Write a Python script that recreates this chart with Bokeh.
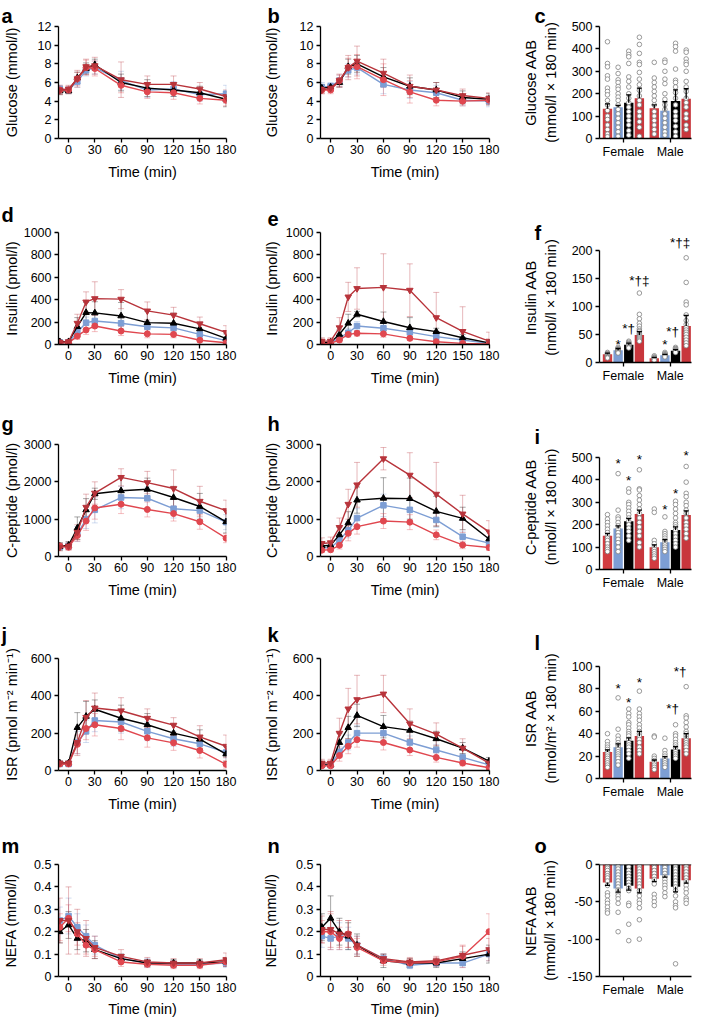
from bokeh.plotting import figure
from bokeh.layouts import row, column
from bokeh.models import (Range1d, FixedTicker, Whisker, TeeHead, ColumnDataSource,
                          Label, Span, CustomJSTickFormatter, Title)
from bokeh.embed import file_html
from bokeh.resources import INLINE

# ------------------------------------------------------------------ data
time_min = [-10, 0, 10, 20, 30, 60, 90, 120, 150, 180]
time_ticks = [0, 30, 60, 90, 120, 150, 180]
sex_labels = ["Female", "Male"]

# group order: g1 (red circle), g2 (blue square), g3 (black triangle), g4 (dark red inverted triangle)
glucose_f_mean = [[5.2, 5.2, 6.4, 7.6, 7.5, 5.7, 5.0, 4.9, 4.3, 4.1],
                  [5.3, 5.2, 6.1, 7.3, 7.6, 6.2, 5.2, 5.3, 4.7, 4.8],
                  [5.1, 5.1, 6.5, 7.5, 7.9, 6.0, 5.4, 5.2, 4.9, 4.2],
                  [5.2, 5.3, 6.4, 7.7, 7.8, 6.3, 5.8, 5.8, 5.3, 4.5]]
glucose_f_err = [[0.4, 0.4, 0.7, 0.8, 0.8, 0.8, 0.7, 0.7, 0.6, 0.6],
                 [0.4, 0.3, 0.6, 0.6, 0.7, 1.0, 0.8, 0.8, 0.7, 0.9],
                 [0.4, 0.3, 0.6, 0.6, 0.6, 0.9, 0.9, 0.7, 0.7, 0.8],
                 [0.5, 0.4, 0.9, 0.8, 0.9, 1.9, 0.9, 0.9, 0.7, 0.7]]
glucose_m_mean = [[5.2, 5.2, 6.2, 7.6, 7.7, 6.3, 5.0, 4.1, 4.0, 4.1],
                  [5.5, 5.6, 6.2, 7.3, 7.6, 5.8, 5.2, 4.9, 4.1, 4.0],
                  [5.4, 5.5, 6.0, 7.7, 8.0, 6.6, 5.6, 5.2, 4.4, 4.2],
                  [5.2, 5.4, 6.2, 7.6, 8.3, 7.0, 5.6, 5.2, 4.6, 4.3]]
glucose_m_err = [[0.4, 0.4, 0.6, 1.0, 1.3, 1.7, 1.2, 0.6, 0.5, 0.5],
                 [0.5, 0.4, 0.6, 0.7, 0.7, 1.0, 0.9, 0.8, 0.6, 0.6],
                 [0.4, 0.3, 0.5, 0.8, 0.9, 1.0, 0.9, 0.8, 0.7, 0.6],
                 [0.4, 0.4, 0.7, 1.3, 1.6, 1.5, 1.2, 0.8, 0.7, 0.6]]

insulin_f_mean = [[15, 15, 75, 130, 165, 120, 95, 90, 38, 15],
                  [20, 20, 110, 195, 210, 190, 158, 148, 90, 35],
                  [25, 25, 160, 285, 282, 255, 195, 190, 140, 55],
                  [20, 25, 190, 380, 410, 405, 300, 262, 185, 108]]
insulin_f_err = [[10, 10, 30, 40, 50, 40, 35, 30, 15, 8],
                 [10, 10, 40, 50, 60, 60, 50, 40, 30, 20],
                 [12, 12, 80, 90, 100, 120, 100, 90, 60, 40],
                 [15, 15, 80, 90, 150, 85, 80, 70, 60, 60]]
insulin_m_mean = [[8, 10, 40, 90, 100, 95, 55, 25, 10, 5],
                  [10, 15, 60, 105, 165, 145, 110, 70, 40, 10],
                  [15, 20, 90, 190, 270, 205, 150, 115, 60, 15],
                  [30, 30, 150, 425, 500, 510, 485, 240, 117, 30]]
insulin_m_err = [[8, 8, 20, 20, 25, 30, 20, 15, 8, 5],
                 [8, 8, 25, 40, 40, 40, 30, 30, 20, 10],
                 [10, 12, 40, 80, 25, 85, 90, 30, 30, 10],
                 [30, 30, 90, 130, 185, 300, 235, 225, 220, 80]]

cpep_f_mean = [[280, 250, 560, 950, 1300, 1400, 1260, 1150, 930, 490],
               [260, 280, 600, 1000, 1250, 1580, 1560, 1280, 1230, 920],
               [270, 300, 760, 1250, 1680, 1760, 1800, 1580, 1340, 930],
               [250, 280, 650, 1320, 1700, 2120, 1980, 1820, 1480, 1230]]
cpep_f_err = [[80, 80, 150, 250, 300, 250, 200, 200, 200, 120],
              [80, 80, 200, 250, 350, 300, 300, 250, 200, 200],
              [100, 100, 300, 300, 150, 350, 300, 300, 350, 300],
              [100, 100, 200, 350, 300, 230, 300, 500, 400, 280]]
cpep_m_mean = [[170, 180, 300, 620, 800, 950, 920, 580, 310, 240],
               [230, 230, 440, 700, 1030, 1370, 1250, 980, 530, 360],
               [280, 300, 580, 900, 1510, 1560, 1550, 1210, 1020, 470],
               [350, 370, 780, 1400, 1920, 2620, 2180, 1670, 1140, 660]]
cpep_m_err = [[60, 60, 100, 200, 200, 200, 200, 130, 100, 80],
              [80, 80, 150, 200, 250, 300, 300, 200, 150, 100],
              [100, 100, 200, 300, 350, 550, 550, 400, 300, 200],
              [150, 150, 250, 400, 600, 300, 600, 850, 500, 300]]

isr_f_mean = [[35, 35, 140, 225, 245, 225, 175, 148, 107, 33],
              [35, 35, 150, 210, 268, 260, 210, 170, 143, 97],
              [40, 40, 230, 290, 328, 280, 245, 200, 168, 88],
              [40, 40, 150, 285, 335, 320, 280, 243, 180, 130]]
isr_f_err = [[10, 10, 50, 60, 60, 60, 50, 40, 40, 20],
             [10, 10, 60, 60, 60, 60, 50, 40, 40, 30],
             [10, 10, 80, 80, 50, 70, 60, 50, 50, 40],
             [10, 10, 70, 90, 80, 70, 50, 40, 60, 60]]
isr_m_mean = [[25, 25, 80, 130, 165, 150, 110, 70, 40, 15],
              [30, 30, 100, 150, 200, 200, 150, 110, 70, 30],
              [30, 30, 150, 230, 295, 235, 215, 170, 120, 50],
              [40, 40, 200, 330, 380, 410, 250, 195, 120, 40]]
isr_m_err = [[10, 10, 30, 40, 40, 40, 30, 25, 15, 10],
             [10, 10, 30, 40, 40, 40, 35, 30, 20, 10],
             [10, 10, 50, 60, 60, 60, 50, 40, 30, 20],
             [20, 20, 80, 110, 130, 100, 80, 60, 50, 20]]

nefa_f_mean = [[0.22, 0.26, 0.19, 0.14, 0.12, 0.065, 0.055, 0.05, 0.05, 0.065],
               [0.25, 0.27, 0.22, 0.18, 0.14, 0.08, 0.06, 0.055, 0.055, 0.06],
               [0.20, 0.23, 0.17, 0.16, 0.12, 0.08, 0.06, 0.06, 0.06, 0.065],
               [0.25, 0.25, 0.20, 0.17, 0.13, 0.09, 0.065, 0.06, 0.06, 0.075]]
nefa_f_err = [[0.06, 0.06, 0.05, 0.04, 0.03, 0.02, 0.015, 0.015, 0.015, 0.02],
              [0.06, 0.08, 0.06, 0.05, 0.04, 0.02, 0.02, 0.015, 0.015, 0.02],
              [0.05, 0.06, 0.05, 0.05, 0.04, 0.02, 0.015, 0.015, 0.015, 0.02],
              [0.10, 0.15, 0.10, 0.08, 0.05, 0.03, 0.02, 0.02, 0.02, 0.03]]
nefa_m_mean = [[0.20, 0.20, 0.17, 0.19, 0.13, 0.07, 0.06, 0.065, 0.09, 0.20],
               [0.18, 0.17, 0.18, 0.17, 0.14, 0.08, 0.05, 0.06, 0.06, 0.10],
               [0.22, 0.26, 0.20, 0.18, 0.14, 0.07, 0.06, 0.06, 0.08, 0.10],
               [0.21, 0.21, 0.19, 0.19, 0.14, 0.08, 0.065, 0.07, 0.095, 0.12]]
nefa_m_err = [[0.05, 0.08, 0.05, 0.06, 0.04, 0.02, 0.02, 0.02, 0.05, 0.08],
              [0.05, 0.05, 0.06, 0.05, 0.04, 0.02, 0.015, 0.015, 0.02, 0.03],
              [0.06, 0.10, 0.06, 0.06, 0.05, 0.03, 0.02, 0.02, 0.03, 0.04],
              [0.06, 0.08, 0.06, 0.06, 0.04, 0.02, 0.02, 0.02, 0.04, 0.05]]

# bar panels: order F-g1..F-g4, M-g1..M-g4
glucose_aab_mean = [133, 140, 160, 180, 135, 124, 167, 177]
glucose_aab_err = [22, 8, 35, 45, 15, 40, 50, 45]
glucose_aab_dots = [[432, 335, 320, 280, 265, 225, 210, 195, 170, 150, 125, 100, 85, 60, 40, 20, 8],
                    [318, 290, 262, 250, 232, 220, 200, 185, 170, 150, 130, 110, 90, 70, 50, 30, 10],
                    [390, 375, 365, 335, 275, 255, 230, 200, 180, 160, 140, 120, 100, 80, 60, 35, 15],
                    [452, 420, 380, 340, 330, 295, 265, 240, 215, 190, 170, 150, 120, 100, 75, 50, 10],
                    [340, 270, 250, 230, 210, 190, 170, 150, 120, 100, 80, 60, 40, 20],
                    [350, 340, 300, 265, 245, 200, 175, 150, 130, 110, 90, 70, 50, 30, 15],
                    [425, 410, 390, 310, 260, 250, 230, 205, 180, 150, 120, 100, 80, 55, 30, 10],
                    [395, 385, 355, 340, 330, 300, 255, 230, 210, 180, 160, 140, 110, 90, 60, 40]]
glucose_aab_marks = []

insulin_aab_mean = [14.6, 22, 31.5, 49, 7.6, 12.8, 21, 65]
insulin_aab_err = [2, 3, 3, 6, 1.5, 1.7, 2, 19]
insulin_aab_dots = [[18, 16, 15, 14, 13, 12, 11, 10, 9, 8],
                    [27, 25, 24, 23, 22, 21, 20, 19, 18, 17],
                    [38, 36, 34, 33, 32, 31, 30, 29, 28, 27, 26],
                    [124, 86, 78, 70, 65, 60, 57, 55, 52, 50, 48, 46, 44, 42, 40, 38],
                    [12, 10, 9, 8, 7, 6, 5, 4],
                    [18, 16, 15, 14, 13, 12, 11, 10],
                    [27, 25, 24, 23, 22, 21, 20, 19, 18],
                    [187, 143, 108, 103, 85, 75, 68, 62, 58, 54, 50, 45, 40, 35, 30]]
insulin_aab_marks = [(1, "*", 33), (2, "*†", 60), (3, "*†‡", 147),
                     (5, "*", 32), (6, "*†", 55), (7, "*†‡", 215)]

cpep_aab_mean = [151, 183, 215, 248, 99, 122, 176, 243]
cpep_aab_err = [10, 12, 13, 17, 11, 11, 14, 19]
cpep_aab_dots = [[245, 225, 210, 195, 180, 165, 150, 140, 130, 115, 100, 90, 80],
                 [428, 265, 235, 225, 210, 195, 180, 165, 150, 135, 120, 100, 80],
                 [360, 345, 300, 290, 275, 260, 245, 230, 215, 200, 185, 170, 150, 130],
                 [445, 360, 355, 330, 310, 290, 270, 250, 230, 210, 190, 170, 150, 120, 100],
                 [270, 255, 130, 115, 100, 90, 80, 70, 60, 50],
                 [235, 170, 160, 150, 140, 130, 120, 110, 100, 90, 80],
                 [305, 290, 270, 250, 230, 210, 200, 190, 175, 160, 145, 130, 115, 100],
                 [460, 390, 340, 325, 300, 285, 265, 250, 230, 210, 195, 180, 160, 140]]
cpep_aab_marks = [(1, "*", 471), (2, "*", 399), (3, "*", 493),
                  (5, "*", 270), (6, "*", 341), (7, "*", 507)]

isr_aab_mean = [23.6, 28, 33.7, 38, 15, 17.9, 26, 36]
isr_aab_err = [2, 3, 2.5, 4, 1.5, 1.6, 2.5, 4]
isr_aab_dots = [[40, 33, 30, 28, 26, 24, 22, 20, 18, 16, 14, 12, 10],
                [72, 44, 38, 35, 32, 30, 28, 26, 24, 22, 20, 18, 15, 12],
                [62, 58, 55, 50, 48, 45, 42, 40, 38, 35, 32, 30, 28, 25, 22, 18],
                [78, 62, 58, 55, 52, 48, 45, 42, 40, 38, 35, 32, 28, 25, 22],
                [38, 37, 20, 18, 16, 14, 12, 10, 8],
                [36, 25, 22, 20, 18, 16, 14, 12, 10],
                [48, 40, 38, 35, 32, 30, 28, 26, 24, 22, 20, 18],
                [82, 56, 54, 50, 46, 42, 40, 38, 36, 34, 32, 30, 28, 25, 22]]
isr_aab_marks = [(1, "*", 80), (2, "*", 68), (3, "*", 85.6),
                 (6, "*†", 62.5), (7, "*†", 95.7)]

nefa_aab_mean = [-24, -32, -28.4, -32, -19, -14.4, -29.7, -21]
nefa_aab_err = [4, 5, 6, 6, 4, 2.5, 7, 4]
nefa_aab_dots = [[-2, -5, -8, -12, -15, -18, -22, -28, -38, -42, -48, -52, -57, -62, -65],
                 [-2, -6, -10, -14, -18, -22, -26, -30, -34, -38, -42, -46, -52, -64, -90],
                 [-3, -8, -12, -16, -20, -24, -28, -32, -35, -52, -55, -80, -102],
                 [-2, -6, -10, -14, -18, -22, -26, -30, -35, -42, -48, -52, -58, -74, -100],
                 [-1, -4, -8, -12, -16, -20, -26, -40, -45, -50, -55],
                 [-1, -4, -8, -12, -16, -20, -24, -28, -32, -38, -43],
                 [-2, -6, -10, -14, -18, -22, -26, -30, -35, -42, -50, -55, -58, -133],
                 [-2, -6, -10, -14, -18, -22, -28, -33, -38, -45, -48, -52]]
nefa_aab_marks = []

# ------------------------------------------------------------------ style
FONT = "Liberation Sans"
LINE_COLORS = ["#e0474f", "#7d9ed4", "#000000", "#b8343b"]
MARKERS = ["circle", "square", "triangle", "inverted_triangle"]
MARKER_SIZES = [6, 5.5, 6.5, 6.5]
BAR_COLORS = ["#d23c40", "#7d9ed4", "#000000", "#c8363c"]
DRAW_ORDER = [1, 2, 0, 3]
TICK_PX = 12.5
CHAR_W = {"-": 0.333, ".": 0.278}

# rows: (top border, bottom border, letter baseline above frame top, x-label standoff)
ROWS = [(26, 55, 4.2, 7), (39, 55, 11, 7), (45, 51, 14, 7), (51, 53, 17, 7), (41, 44, 12, 6)]
FRAME_H = 112
LETTER_DESC = 4.2
COLS = [dict(left=57, fw=168, right=14, lx=-57, gap=36),
        dict(left=80, fw=169, right=14, lx=-53, gap=38),
        dict(left=96, fw=92, right=1, lx=-65, gap=38)]

NUM_FMT = "return String(Math.round(tick * 100) / 100);"


def label_width(ticks):
    w = 0
    for t in ticks:
        s = str(int(t)) if float(t).is_integer() else str(t)
        w = max(w, sum(CHAR_W.get(ch, 0.556) for ch in s) * TICK_PX)
    return w


def style(p, yticks, ylabel, col):
    p.xgrid.visible = False
    p.ygrid.visible = False
    p.outline_line_color = None
    for ax in (p.xaxis[0], p.yaxis[0]):
        ax.axis_line_color = "black"
        ax.axis_line_width = 1.3
        ax.major_tick_line_color = "black"
        ax.major_tick_line_width = 1.3
        ax.major_tick_in = 0
        ax.major_tick_out = 4
        ax.minor_tick_line_color = None
        ax.major_label_text_font = FONT
        ax.major_label_text_font_size = f"{TICK_PX}px"
        ax.major_label_text_color = "black"
        ax.axis_label_text_font = FONT
        ax.axis_label_text_font_size = "14.5px"
        ax.axis_label_text_font_style = "normal"
        ax.axis_label_text_color = "black"
    p.yaxis[0].ticker = FixedTicker(ticks=yticks)
    p.yaxis[0].bounds = (yticks[0], yticks[-1])
    p.yaxis[0].formatter = CustomJSTickFormatter(code=NUM_FMT)
    p.yaxis[0].major_label_standoff = 3
    p.yaxis[0].axis_label = ylabel
    p.yaxis[0].axis_label_standoff = max(1, int(round(COLS[col]["gap"] - 7 - label_width(yticks))))
    p.xaxis[0].major_label_standoff = 2


def add_letter(p, letter, col, rowi, extra=0):
    s = 2 * (ROWS[rowi][2] - LETTER_DESC) - 2 * extra
    t = Title(text=letter, align="left", offset=COLS[col]["lx"], vertical_align="bottom",
              text_font=FONT, text_font_size="20px", text_font_style="bold", text_color="black")
    try:
        t.standoff = s
    except Exception:
        t.standoff = max(0, s)
    p.title = t


def make_fig(col, rowi, x_range, y_range, extra=0):
    c = COLS[col]
    top, bottom, _, _ = ROWS[rowi]
    return figure(frame_width=c["fw"], frame_height=FRAME_H + extra, min_border_left=c["left"],
                  min_border_right=c["right"], min_border_top=top - extra, min_border_bottom=bottom,
                  x_range=x_range, y_range=y_range, output_backend="svg", toolbar_location=None)


def time_panel(mean, err, yticks, ylabel, letter, col, rowi):
    p = make_fig(col, rowi, Range1d(-11.5, 180.5), Range1d(yticks[0], yticks[-1]))
    style(p, yticks, ylabel, col)
    p.xaxis[0].ticker = FixedTicker(ticks=time_ticks)
    p.xaxis[0].axis_label = "Time (min)"
    p.xaxis[0].axis_label_standoff = ROWS[rowi][3]
    for g in DRAW_ORDER:
        col_ = LINE_COLORS[g]
        src = ColumnDataSource(dict(x=time_min,
                                    upper=[m + e for m, e in zip(mean[g], err[g])],
                                    lower=[m - e for m, e in zip(mean[g], err[g])]))
        p.add_layout(Whisker(source=src, base="x", upper="upper", lower="lower",
                             line_color=col_, line_alpha=0.35, line_width=1,
                             upper_head=TeeHead(size=6, line_color=col_, line_alpha=0.35, line_width=1),
                             lower_head=TeeHead(size=6, line_color=col_, line_alpha=0.35, line_width=1)))
    for g in DRAW_ORDER:
        col_ = LINE_COLORS[g]
        p.line(time_min, mean[g], line_color=col_, line_width=1.4)
        p.scatter(time_min, mean[g], marker=MARKERS[g], size=MARKER_SIZES[g],
                  fill_color=col_, line_color=col_)
    add_letter(p, letter, col, rowi)
    return p


def bar_panel(mean, err, dots, marks, yticks, ylabel, letter, rowi, extra=0):
    span = yticks[-1] - yticks[0]
    ytop = yticks[-1] + span * extra / FRAME_H
    p = make_fig(2, rowi, Range1d(0.25, 8.9), Range1d(yticks[0], ytop), extra)
    style(p, yticks, ylabel, 2)
    xs = [i + 1 + (0.4 if i >= 4 else 0) for i in range(len(mean))]
    p.xaxis[0].ticker = FixedTicker(ticks=[(xs[0] + xs[3]) / 2, (xs[4] + xs[7]) / 2])
    p.xaxis[0].formatter = CustomJSTickFormatter(
        code="return tick < 5 ? '%s' : '%s';" % (sex_labels[0], sex_labels[1]))
    p.xaxis[0].axis_label_standoff = 0
    colors = [BAR_COLORS[i % 4] for i in range(len(mean))]
    p.vbar(x=xs, top=mean, bottom=0, width=0.88, fill_color=colors, line_color=None)
    neg = mean[0] < 0
    src = ColumnDataSource(dict(x=xs,
                                upper=[m if neg else m + e for m, e in zip(mean, err)],
                                lower=[m - e if neg else m for m, e in zip(mean, err)]))
    head = TeeHead(size=5, line_color="black", line_width=1.3)
    p.add_layout(Whisker(source=src, base="x", upper="upper", lower="lower",
                         line_color="black", line_width=1.3, level="glyph",
                         upper_head=None if neg else head, lower_head=head if neg else None))
    for x, d in zip(xs, dots):
        p.scatter([x] * len(d), d, marker="circle", size=4.6, fill_color="white",
                  line_color="#808080", line_width=0.8)
    if neg:
        p.add_layout(Span(location=0, dimension="width", line_color="black", line_width=1.3))
    for i, txt, y in marks:
        # multi-symbol marks over the male group sit slightly left of the bar, as in the source
        shift = 0
        if i >= 4 and len(txt) > 1:
            shift = -6 if i == len(mean) - 1 else -3
        p.add_layout(Label(x=xs[i], y=y, text=txt, text_font=FONT, text_font_size="13.5px",
                           x_offset=shift, text_align="center", text_baseline="middle",
                           text_color="black"))
    add_letter(p, letter, 2, rowi, extra)
    return p


glu_ticks = [0, 2, 4, 6, 8, 10, 12]
ins_ticks = [0, 200, 400, 600, 800, 1000]
cp_ticks = [0, 1000, 2000, 3000]
isr_ticks = [0, 200, 400, 600]
nefa_ticks = [0, 0.1, 0.2, 0.3, 0.4, 0.5]

rows = [
    row(time_panel(glucose_f_mean, glucose_f_err, glu_ticks, "Glucose (mmol/l)", "a", 0, 0),
        time_panel(glucose_m_mean, glucose_m_err, glu_ticks, "Glucose (mmol/l)", "b", 1, 0),
        bar_panel(glucose_aab_mean, glucose_aab_err, glucose_aab_dots, glucose_aab_marks,
                  [0, 100, 200, 300, 400, 500], "Glucose AAB\n(mmol/l × 180 min)", "c", 0)),
    row(time_panel(insulin_f_mean, insulin_f_err, ins_ticks, "Insulin (pmol/l)", "d", 0, 1),
        time_panel(insulin_m_mean, insulin_m_err, ins_ticks, "Insulin (pmol/l)", "e", 1, 1),
        bar_panel(insulin_aab_mean, insulin_aab_err, insulin_aab_dots, insulin_aab_marks,
                  [0, 50, 100, 150, 200], "Insulin AAB\n(nmol/l × 180 min)", "f", 1, extra=18)),
    row(time_panel(cpep_f_mean, cpep_f_err, cp_ticks, "C-peptide (pmol/l)", "g", 0, 2),
        time_panel(cpep_m_mean, cpep_m_err, cp_ticks, "C-peptide (pmol/l)", "h", 1, 2),
        bar_panel(cpep_aab_mean, cpep_aab_err, cpep_aab_dots, cpep_aab_marks,
                  [0, 100, 200, 300, 400, 500], "C-peptide AAB\n(nmol/l × 180 min)", "i", 2, extra=13)),
    row(time_panel(isr_f_mean, isr_f_err, isr_ticks, "ISR (pmol m⁻² min⁻¹)", "j", 0, 3),
        time_panel(isr_m_mean, isr_m_err, isr_ticks, "ISR (pmol m⁻² min⁻¹)", "k", 1, 3),
        bar_panel(isr_aab_mean, isr_aab_err, isr_aab_dots, isr_aab_marks,
                  [0, 20, 40, 60, 80, 100], "ISR AAB\n(nmol/m² × 180 min)", "l", 3, extra=8)),
    row(time_panel(nefa_f_mean, nefa_f_err, nefa_ticks, "NEFA (mmol/l)", "m", 0, 4),
        time_panel(nefa_m_mean, nefa_m_err, nefa_ticks, "NEFA (mmol/l)", "n", 1, 4),
        bar_panel(nefa_aab_mean, nefa_aab_err, nefa_aab_dots, nefa_aab_marks,
                  [-150, -100, -50, 0], "NEFA AAB\n(mmol/l × 180 min)", "o", 4)),
]

layout = column(*rows)
open("out.html", "w").write(file_html(layout, INLINE))
